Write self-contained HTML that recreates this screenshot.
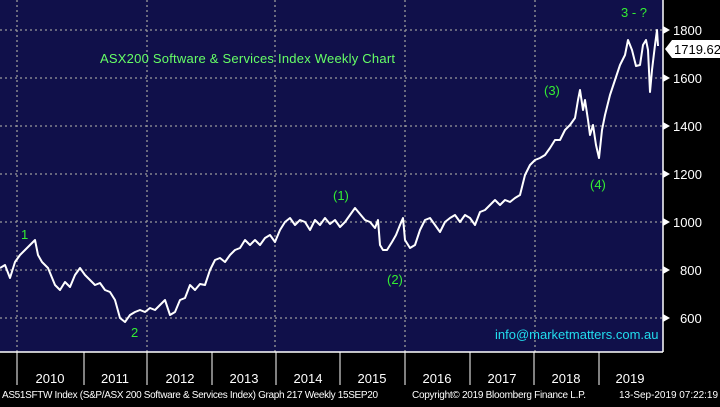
<!DOCTYPE html>
<html><head><style>
body{margin:0;width:720px;height:402px;background:#000;overflow:hidden;font-family:"Liberation Sans",sans-serif}
</style></head><body>
<svg width="720" height="402" xmlns="http://www.w3.org/2000/svg" font-family="Liberation Sans, sans-serif">
<rect x="0" y="0" width="663" height="352" fill="#10104a"/>
<g stroke="#9a9a9a" stroke-width="1.3" stroke-dasharray="2,3">
<line x1="0" y1="30" x2="663" y2="30"/><line x1="0" y1="78" x2="663" y2="78"/>
<line x1="0" y1="126" x2="663" y2="126"/><line x1="0" y1="174" x2="663" y2="174"/>
<line x1="0" y1="222" x2="663" y2="222"/><line x1="0" y1="270" x2="663" y2="270"/>
<line x1="0" y1="318" x2="663" y2="318"/>
<line x1="17" y1="0" x2="17" y2="352"/><line x1="147" y1="0" x2="147" y2="352"/>
<line x1="275" y1="0" x2="275" y2="352"/><line x1="405" y1="0" x2="405" y2="352"/>
<line x1="535" y1="0" x2="535" y2="352"/>
</g>
<line x1="663" y1="0" x2="663" y2="352" stroke="#fff" stroke-width="1.5"/>
<line x1="0" y1="352" x2="663" y2="352" stroke="#fff" stroke-width="1.5"/>
<g stroke="#fff" stroke-width="1">
<line x1="17" y1="352" x2="17" y2="385"/><line x1="84" y1="352" x2="84" y2="385"/><line x1="147" y1="352" x2="147" y2="385"/><line x1="212" y1="352" x2="212" y2="385"/><line x1="276" y1="352" x2="276" y2="385"/><line x1="340" y1="352" x2="340" y2="385"/><line x1="405" y1="352" x2="405" y2="385"/><line x1="470" y1="352" x2="470" y2="385"/><line x1="534" y1="352" x2="534" y2="385"/><line x1="599" y1="352" x2="599" y2="385"/>
</g>
<g fill="#fff" font-size="13" text-anchor="middle">
<text x="50" y="383">2010</text><text x="115" y="383">2011</text><text x="180" y="383">2012</text><text x="244" y="383">2013</text><text x="308" y="383">2014</text><text x="372" y="383">2015</text><text x="437" y="383">2016</text><text x="502" y="383">2017</text><text x="566" y="383">2018</text><text x="630" y="383">2019</text>
</g>
<g fill="#fff" font-size="10">
<text x="2" y="398" textLength="376">AS51SFTW Index (S&amp;P/ASX 200 Software &amp; Services Index) Graph 217  Weekly 15SEP20</text>
<text x="412" y="398" textLength="174">Copyright© 2019 Bloomberg Finance L.P.</text>
<text x="619" y="398" textLength="99">13-Sep-2019 07:22:19</text>
</g>
<g fill="#fff" font-size="13">
<path d="M663 26 l7 4 l-7 4z M663 74 l7 4 l-7 4z M663 122 l7 4 l-7 4z M663 170 l7 4 l-7 4z M663 218 l7 4 l-7 4z M663 266 l7 4 l-7 4z M663 314 l7 4 l-7 4z"/>
<text x="673" y="35">1800</text><text x="673" y="83">1600</text><text x="673" y="131">1400</text><text x="673" y="179">1200</text><text x="673" y="227">1000</text><text x="680" y="275">800</text><text x="680" y="323">600</text>
</g>
<path d="M665 49 l7 -9 h48 v18 h-48z" fill="#fff"/>
<text x="674" y="54" font-size="13" fill="#000">1719.62</text>
<polyline fill="none" stroke="#fff" stroke-width="2" stroke-linejoin="round" points="0,268 5,265 10,278 15,262 20,255 25,250 30,245 35,240 38,255 42,262 48,268 55,285 60,290 65,282 70,287 75,275 80,268 85,275 90,280 95,285 100,283 105,290 110,292 115,300 120,318 125,322 130,315 135,312 140,310 145,312 150,308 155,310 160,305 165,300 170,315 175,312 180,300 185,298 190,285 195,290 200,284 205,285 210,270 215,260 220,258 225,262 230,255 235,250 240,248 245,240 250,245 255,240 260,245 265,238 270,235 275,242 280,230 285,222 290,218 295,225 300,220 305,222 310,230 315,220 320,225 325,218 330,224 335,220 340,227 345,222 350,215 355,208 360,214 365,220 370,222 375,228 378,220 380,245 383,250 387,250 392,242 396,235 400,225 403,218 405,240 410,248 415,245 420,230 425,220 430,218 435,225 440,232 445,222 450,218 455,215 460,222 465,215 470,218 475,225 480,212 485,210 490,205 495,200 500,205 505,200 510,202 515,198 520,195 525,175 530,165 535,160 540,158 545,155 550,148 555,140 560,140 565,130 570,125 575,118 578,100 580,90 583,110 585,100 588,120 590,135 593,125 596,145 599,158 602,130 605,115 610,95 615,80 620,65 625,55 628,40 632,50 636,66 640,65 643,45 646,40 648,50 650,92 652,70 655,45 657,30 658,46"/>
<g fill="#33ee33" font-size="13">
<text x="100" y="63" fill="#66ff66" textLength="295">ASX200 Software &amp; Services Index Weekly Chart</text>
<text x="21" y="239">1</text><text x="131" y="337">2</text>
<text x="333" y="200">(1)</text><text x="387" y="284">(2)</text>
<text x="544" y="95">(3)</text><text x="590" y="189">(4)</text>
<text x="621" y="17">3 - ?</text>
</g>
<text x="495" y="339" font-size="13" fill="#22ddee">info@marketmatters.com.au</text>
</svg>
</body></html>
